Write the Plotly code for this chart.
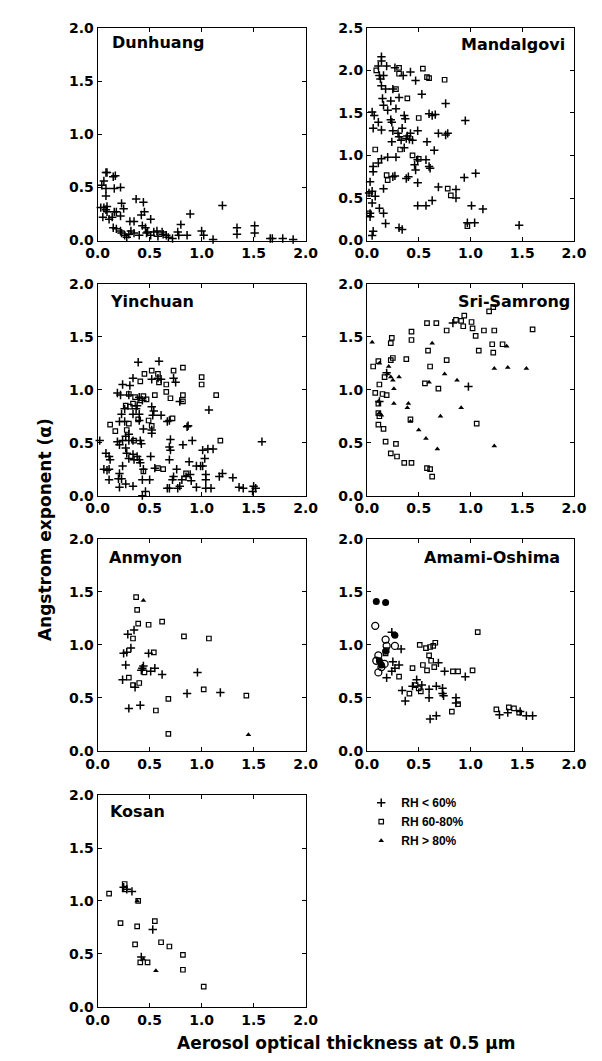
import plotly.graph_objects as go

W, H = 602, 1061

RH_LABELS = ["RH < 60%", "RH 60-80%", "RH > 80%"]
STATIONS = ["Dunhuang", "Mandalgovi", "Yinchuan", "Sri-Samrong", "Anmyon", "Amami-Oshima", "Kosan"]
X_TICKS = [0.0, 0.5, 1.0, 1.5, 2.0]
Y_TICKS_2 = [0.0, 0.5, 1.0, 1.5, 2.0]
Y_TICKS_25 = [0.0, 0.5, 1.0, 1.5, 2.0, 2.5]

DUNHUANG_LO = [(0.08,0.64),(0.09,0.64),(0.15,0.60),(0.17,0.61),(0.06,0.56),(0.04,0.52),(0.08,0.49),(0.16,0.49),
    (0.22,0.50),(0.08,0.42),(0.03,0.31),(0.06,0.31),(0.09,0.32),(0.08,0.29),(0.09,0.27),(0.05,0.22),(0.11,0.20),
    (0.16,0.27),(0.18,0.27),(0.23,0.35),(0.25,0.30),(0.22,0.23),(0.14,0.22),(0.15,0.12),(0.18,0.11),(0.22,0.09),
    (0.23,0.07),(0.26,0.05),(0.28,0.03),(0.31,0.18),(0.35,0.18),(0.32,0.09),(0.35,0.07),(0.37,0.39),(0.44,0.36),
    (0.42,0.24),(0.45,0.27),(0.43,0.14),(0.46,0.12),(0.51,0.20),(0.48,0.08),(0.51,0.05),(0.54,0.08),(0.57,0.09),
    (0.62,0.08),(0.63,0.06),(0.68,0.03),(0.77,0.08),(0.80,0.15),(0.78,0.05),(0.86,0.05),(0.89,0.25),(0.72,0.02),
    (1.00,0.09),(1.02,0.05),(1.11,0.01),(1.20,0.33),(1.34,0.12),(1.34,0.06),(1.51,0.14),(1.51,0.07),(1.66,0.02),
    (1.68,0.02),(1.78,0.02),(1.88,0.01),(0.40,0.05),(0.47,0.07),(0.58,0.04),(0.66,0.05),(0.30,0.06)]

MANDALGOVI_LO = [(0.14,2.16),(0.14,2.11),(0.11,2.05),(0.19,2.05),(0.27,2.03),(0.12,1.94),(0.13,1.90),(0.16,1.94),
    (0.35,1.94),(0.42,1.98),(0.47,1.88),(0.53,1.72),(0.14,1.82),(0.18,1.78),(0.25,1.78),(0.31,1.68),(0.15,1.67),
    (0.23,1.64),(0.16,1.59),(0.05,1.51),(0.07,1.47),(0.20,1.53),(0.28,1.55),(0.36,1.47),(0.37,1.43),(0.23,1.42),
    (0.24,1.39),(0.11,1.39),(0.06,1.32),(0.14,1.30),(0.25,1.29),(0.30,1.26),(0.34,1.32),(0.42,1.26),(0.49,1.29),
    (0.58,1.16),(0.24,1.16),(0.31,1.22),(0.33,1.18),(0.38,1.20),(0.41,1.19),(0.44,1.18),(0.39,1.23),(0.60,1.49),
    (0.63,1.47),(0.66,1.48),(0.76,1.61),(0.69,1.26),(0.76,1.24),(0.78,1.26),(0.95,1.41),(0.65,1.06),(0.36,1.09),
    (0.28,0.98),(0.20,0.98),(0.14,0.96),(0.11,0.91),(0.06,0.87),(0.06,0.81),(0.49,0.95),(0.57,0.95),(0.60,0.87),
    (0.61,0.85),(0.46,0.89),(0.47,0.83),(0.25,0.75),(0.27,0.76),(0.38,0.73),(0.40,0.75),(0.49,0.68),(0.16,0.61),
    (0.03,0.69),(0.02,0.56),(0.05,0.58),(0.08,0.52),(0.05,0.44),(0.03,0.32),(0.03,0.28),(0.12,0.38),(0.16,0.32),
    (0.18,0.20),(0.31,0.15),(0.34,0.13),(0.06,0.11),(0.05,0.06),(0.49,0.41),(0.57,0.41),(0.63,0.47),(0.69,0.63),
    (0.86,0.60),(0.86,0.50),(0.94,0.74),(1.05,0.79),(1.01,0.41),(1.12,0.37),(1.04,0.21),(0.97,0.21),(1.47,0.18)]
MANDALGOVI_MID = [(0.09,2.00),(0.31,2.03),(0.31,1.96),(0.54,2.02),(0.58,1.92),(0.60,1.91),(0.75,1.89),(0.28,1.78),
    (0.39,1.67),(0.50,1.44),(0.08,1.07),(0.32,1.07),(0.44,1.00),(0.50,0.96),(0.19,0.77),(0.20,0.71),(0.78,0.61),
    (0.81,0.53),(0.97,0.17),(0.02,0.32),(0.02,0.55)]

YINCHUAN_LO = [(0.39,1.26),(0.59,1.27),(0.34,1.11),(0.24,1.05),(0.31,1.04),(0.19,0.97),(0.22,0.95),(0.30,0.95),
    (0.52,1.10),(0.58,1.11),(0.61,1.10),(0.73,1.11),(0.75,1.07),(0.40,0.93),(0.43,0.90),(0.38,0.85),(0.37,0.82),
    (0.26,0.82),(0.23,0.77),(0.34,0.77),(0.40,0.77),(0.52,0.84),(0.54,0.80),(0.53,0.76),(0.21,0.70),(0.26,0.70),
    (0.40,0.71),(0.44,0.63),(0.52,0.62),(0.61,0.76),(0.67,0.70),(0.69,0.71),(0.79,0.89),(1.07,0.81),(0.87,0.66),
    (0.86,0.65),(0.52,0.59),(0.02,0.52),(0.08,0.40),(0.11,0.37),(0.12,0.34),(0.19,0.51),(0.21,0.48),(0.24,0.52),
    (0.27,0.56),(0.30,0.58),(0.30,0.52),(0.34,0.52),(0.41,0.52),(0.42,0.49),(0.27,0.45),(0.28,0.40),(0.30,0.35),
    (0.34,0.39),(0.35,0.34),(0.38,0.37),(0.40,0.34),(0.41,0.31),(0.24,0.28),(0.06,0.25),(0.09,0.24),(0.11,0.25),
    (0.21,0.21),(0.23,0.16),(0.20,0.16),(0.11,0.15),(0.27,0.11),(0.21,0.08),(0.34,0.09),(0.43,0.15),(0.44,0.25),
    (0.51,0.37),(0.46,0.04),(0.43,0.00),(0.70,0.53),(0.69,0.46),(0.70,0.43),(0.69,0.34),(0.82,0.48),(0.91,0.52),
    (0.88,0.32),(0.76,0.25),(0.73,0.18),(0.72,0.15),(0.81,0.15),(0.85,0.18),(0.89,0.20),(0.95,0.28),(0.99,0.28),
    (1.01,0.28),(1.01,0.43),(1.06,0.44),(1.11,0.44),(1.03,0.35),(1.04,0.20),(1.04,0.15),(0.69,0.07),(0.67,0.07),
    (0.77,0.07),(0.79,0.09),(0.90,0.14),(0.95,0.08),(1.04,0.07),(1.09,0.07),(1.17,0.18),(1.20,0.21),(1.30,0.17),
    (1.36,0.08),(1.40,0.07),(1.50,0.09),(1.52,0.07),(1.49,0.04),(1.58,0.51),(0.55,0.26),(0.50,0.15)]
YINCHUAN_MID = [(0.45,1.15),(0.52,1.18),(0.58,1.15),(0.59,1.07),(0.41,1.08),(0.66,1.05),(0.73,1.18),(0.82,1.21),
    (1.00,1.12),(1.00,1.05),(1.14,0.95),(0.30,0.96),(0.36,0.93),(0.44,0.94),(0.47,0.91),(0.55,0.95),(0.66,0.98),
    (0.70,0.92),(0.82,0.95),(0.82,0.89),(0.27,0.85),(0.31,0.84),(0.41,0.90),(0.34,0.87),(0.49,0.71),(0.52,0.66),
    (0.72,0.73),(0.39,0.72),(0.30,0.68),(0.12,0.67),(0.17,0.61),(0.28,0.62),(0.35,0.52),(1.18,0.52),(0.44,0.23),
    (0.58,0.26),(0.63,0.25),(0.85,0.21)]

SRISAMRONG_LO = [(0.83,1.63),(0.98,1.03),(0.12,0.89),(0.19,1.16)]
SRISAMRONG_MID = [(0.06,1.22),(0.11,1.27),(0.24,1.49),(0.23,1.44),(0.25,1.30),(0.23,1.28),(0.38,1.29),(0.43,1.55),
    (0.43,1.47),(0.58,1.63),(0.67,1.63),(0.77,1.56),(0.59,1.37),(0.61,1.22),(0.77,1.28),(0.86,1.66),(0.94,1.70),
    (0.91,1.65),(0.93,1.60),(1.01,1.64),(1.02,1.58),(1.05,1.51),(1.08,1.37),(1.13,1.56),(1.23,1.56),(1.18,1.74),
    (1.22,1.78),(1.21,1.43),(1.22,1.35),(1.31,1.43),(1.60,1.57),(1.06,0.68),(0.08,0.97),(0.11,0.87),(0.15,0.96),
    (0.19,0.95),(0.17,1.12),(0.12,1.05),(0.11,0.67),(0.16,0.63),(0.18,0.51),(0.28,0.49),(0.23,0.40),(0.29,0.37),
    (0.36,0.31),(0.43,0.31),(0.58,0.26),(0.61,0.25),(0.63,0.18),(0.56,1.06),(0.69,1.01),(0.11,0.78),(0.12,0.75),
    (0.42,0.72)]
SRISAMRONG_HI = [(0.05,1.45),(0.12,1.25),(0.21,1.22),(0.20,1.15),(0.23,1.12),(0.25,1.09),(0.31,1.12),(0.26,1.01),
    (0.26,0.87),(0.11,0.89),(0.40,0.87),(0.39,0.83),(0.42,0.70),(0.50,0.62),(0.57,0.54),(0.68,0.44),(0.63,1.44),
    (0.75,1.15),(0.87,1.09),(0.91,0.83),(0.71,0.75),(1.23,0.47),(1.23,1.20),(1.36,1.21),(1.54,1.20),(1.35,1.41),
    (0.12,0.78),(0.14,0.76),(0.60,1.07)]

ANMYON_LO = [(0.29,1.10),(0.35,1.14),(0.32,0.97),(0.25,0.92),(0.28,0.93),(0.49,0.92),(0.27,0.81),(0.43,0.78),
    (0.44,0.80),(0.51,0.75),(0.55,0.78),(0.62,0.72),(0.42,0.76),(0.24,0.67),(0.36,0.60),(0.96,0.74),(0.86,0.54),
    (1.18,0.55),(0.30,0.40),(0.41,0.43)]
ANMYON_MID = [(0.37,1.45),(0.38,1.33),(0.39,1.20),(0.49,1.19),(0.62,1.22),(0.83,1.08),(1.07,1.06),(0.34,1.06),
    (0.54,0.93),(0.45,0.74),(0.30,0.69),(0.34,0.62),(0.40,0.64),(0.68,0.49),(0.56,0.38),(1.02,0.58),(1.43,0.52),
    (0.68,0.16)]
ANMYON_HI = [(0.44,1.42),(1.45,0.15)]

AMAMI_LO = [(0.24,1.12),(0.33,0.96),(0.25,0.84),(0.31,0.81),(0.19,0.69),(0.24,0.75),(0.27,0.78),(0.34,0.57),
    (0.37,0.47),(0.44,0.61),(0.48,0.67),(0.53,0.62),(0.60,0.58),(0.60,0.50),(0.67,0.61),(0.73,0.59),(0.74,0.52),
    (0.75,0.75),(0.69,0.83),(0.61,0.30),(0.67,0.33),(0.86,0.50),(0.86,0.45),(0.95,0.70),(1.28,0.34),(1.36,0.36),
    (1.48,0.37),(1.54,0.33),(1.60,0.33),(0.73,0.54)]
AMAMI_MID = [(0.19,0.95),(0.18,0.92),(0.31,0.70),(0.44,0.78),(0.41,0.54),(0.47,0.62),(0.50,0.59),(0.52,0.56),
    (0.51,1.00),(0.57,0.97),(0.61,0.98),(0.64,0.99),(0.66,1.02),(0.60,0.90),(0.54,0.81),(0.62,0.85),(0.65,0.79),
    (0.58,0.76),(0.83,0.75),(0.88,0.75),(1.02,0.76),(1.07,1.12),(0.88,0.44),(0.82,0.37),(1.25,0.39),(1.37,0.41),
    (1.42,0.40),(1.47,0.36)]
AMAMI_FILLED_CIRCLE = [(0.09,1.41),(0.18,1.40),(0.27,1.09),(0.12,0.85),(0.14,0.81),(0.18,0.94)]
AMAMI_OPEN_CIRCLE = [(0.08,1.18),(0.18,1.05),(0.19,0.99),(0.11,0.90),(0.09,0.85),(0.11,0.74),(0.27,0.99),
    (0.17,0.82),(0.14,0.79)]

KOSAN_LO = [(0.25,1.13),(0.28,1.11),(0.33,1.09),(0.53,0.73),(0.42,0.47)]
KOSAN_MID = [(0.11,1.07),(0.26,1.16),(0.26,1.11),(0.39,1.00),(0.22,0.79),(0.38,0.76),(0.55,0.81),(0.36,0.59),
    (0.61,0.61),(0.69,0.57),(0.82,0.49),(0.82,0.35),(0.41,0.42),(0.48,0.42),(1.02,0.19)]
KOSAN_HI = [(0.56,0.34),(0.38,1.00),(0.44,0.45)]

# panel layout in pixels: (left, right) columns and (top, bottom) rows
COLS = [(81, 298), (362, 578)]
ROWS = [(12, 228), (272, 487), (531, 746), (791, 1006)]

# name, row, col, ymax, title anchor, title x offset (px from anchored edge), title y offset (px from top)
PANELS = [
    ("Dunhuang", 0, 0, 2.0, "left", 13, 15, {"lo": DUNHUANG_LO}),
    ("Mandalgovi", 0, 1, 2.5, "right", 7, 17, {"lo": MANDALGOVI_LO, "mid": MANDALGOVI_MID}),
    ("Yinchuan", 1, 0, 2.0, "left", 11, 18, {"lo": YINCHUAN_LO, "mid": YINCHUAN_MID}),
    ("Sri-Samrong", 1, 1, 2.0, "right", 2, 18, {"lo": SRISAMRONG_LO, "mid": SRISAMRONG_MID, "hi": SRISAMRONG_HI}),
    ("Anmyon", 2, 0, 2.0, "left", 10, 19, {"lo": ANMYON_LO, "mid": ANMYON_MID, "hi": ANMYON_HI}),
    ("Amami-Oshima", 2, 1, 2.0, "right", 12, 19, {"lo": AMAMI_LO, "mid": AMAMI_MID,
                                                  "fc": AMAMI_FILLED_CIRCLE, "oc": AMAMI_OPEN_CIRCLE}),
    ("Kosan", 3, 0, 2.0, "left", 11, 17, {"lo": KOSAN_LO, "mid": KOSAN_MID, "hi": KOSAN_HI}),
]

STYLE = {
    "lo": dict(symbol="cross-thin", size=6, color="black", line=dict(width=1.5, color="black")),
    "mid": dict(symbol="square-open", size=4.5, color="black", line=dict(width=1.2, color="black")),
    "hi": dict(symbol="triangle-up", size=5, color="black", line=dict(width=0)),
    "fc": dict(symbol="circle", size=7, color="black", line=dict(width=0)),
    "oc": dict(symbol="circle-open", size=7, color="black", line=dict(width=1.3, color="black")),
}
LEGEND_NAME = {"lo": RH_LABELS[0], "mid": RH_LABELS[1], "hi": RH_LABELS[2]}

FONT = "DejaVu Sans, Arial, sans-serif"
LFONT = "Arial, Liberation Sans, sans-serif"
fig = go.Figure()
shown = set()
annotations = []

for i, (name, r, c, ymax, align, tx, ty, series) in enumerate(PANELS):
    k = "" if i == 0 else str(i + 1)
    xl, xr = COLS[c]
    yt, yb = ROWS[r]
    axis_common = dict(
        showline=True, linecolor="black", linewidth=1, mirror="ticks",
        ticks="inside", ticklen=4, tickwidth=1, tickcolor="black",
        showgrid=False, zeroline=False, tickformat=".1f",
        tickfont=dict(family=FONT, size=14, color="black", weight="bold"),
        fixedrange=True,
    )
    fig.layout["xaxis" + k] = dict(axis_common, domain=[xl / W, xr / W], range=[0, 2.0],
                                   tickvals=X_TICKS, anchor="y" + k)
    fig.layout["yaxis" + k] = dict(axis_common, domain=[1 - yb / H, 1 - yt / H], range=[0, ymax],
                                   tickvals=Y_TICKS_25 if ymax > 2.0 else Y_TICKS_2, anchor="x" + k)
    for key in ["lo", "mid", "hi", "fc", "oc"]:
        if key not in series:
            continue
        pts = series[key]
        show = key in LEGEND_NAME and key not in shown
        if show:
            shown.add(key)
        fig.add_trace(go.Scatter(
            x=[p[0] for p in pts], y=[p[1] for p in pts], mode="markers",
            marker=STYLE[key], name=LEGEND_NAME.get(key, key), showlegend=show,
            legendrank={"lo": 1, "mid": 2, "hi": 3}.get(key, 9),
            xaxis="x" + k, yaxis="y" + k, cliponaxis=False,
        ))
    if align == "left":
        ax, anchor = (xl + tx) / W, "left"
    else:
        ax, anchor = (xr - tx) / W, "right"
    annotations.append(dict(text=name, x=ax, y=1 - (yt + ty) / H, xref="paper", yref="paper",
                            xanchor=anchor, yanchor="middle", showarrow=False,
                            font=dict(family=FONT, size=16, color="black", weight="bold")))

annotations.append(dict(text="Angstrom exponent (α)", x=26 / W, y=1 - 521 / H, xref="paper", yref="paper",
                        textangle=-90, showarrow=False, xanchor="center", yanchor="middle",
                        font=dict(family=FONT, size=17, color="black", weight="bold")))
annotations.append(dict(text="Aerosol optical thickness at 0.5 µm", x=340 / W, y=1 - 1043 / H,
                        xref="paper", yref="paper", showarrow=False, xanchor="center", yanchor="middle",
                        font=dict(family=FONT, size=17, color="black", weight="bold")))

fig.update_layout(
    width=W, height=H, margin=dict(l=0, r=0, t=0, b=0),
    paper_bgcolor="white", plot_bgcolor="white",
    annotations=annotations,
    showlegend=True,
    legend=dict(x=356 / W, y=1 - 784 / H, xanchor="left", yanchor="top", bgcolor="rgba(0,0,0,0)",
                font=dict(family=LFONT, size=12, color="black", weight="bold"), tracegroupgap=0,
                itemwidth=30),
)

fig.write_html("out.html")
